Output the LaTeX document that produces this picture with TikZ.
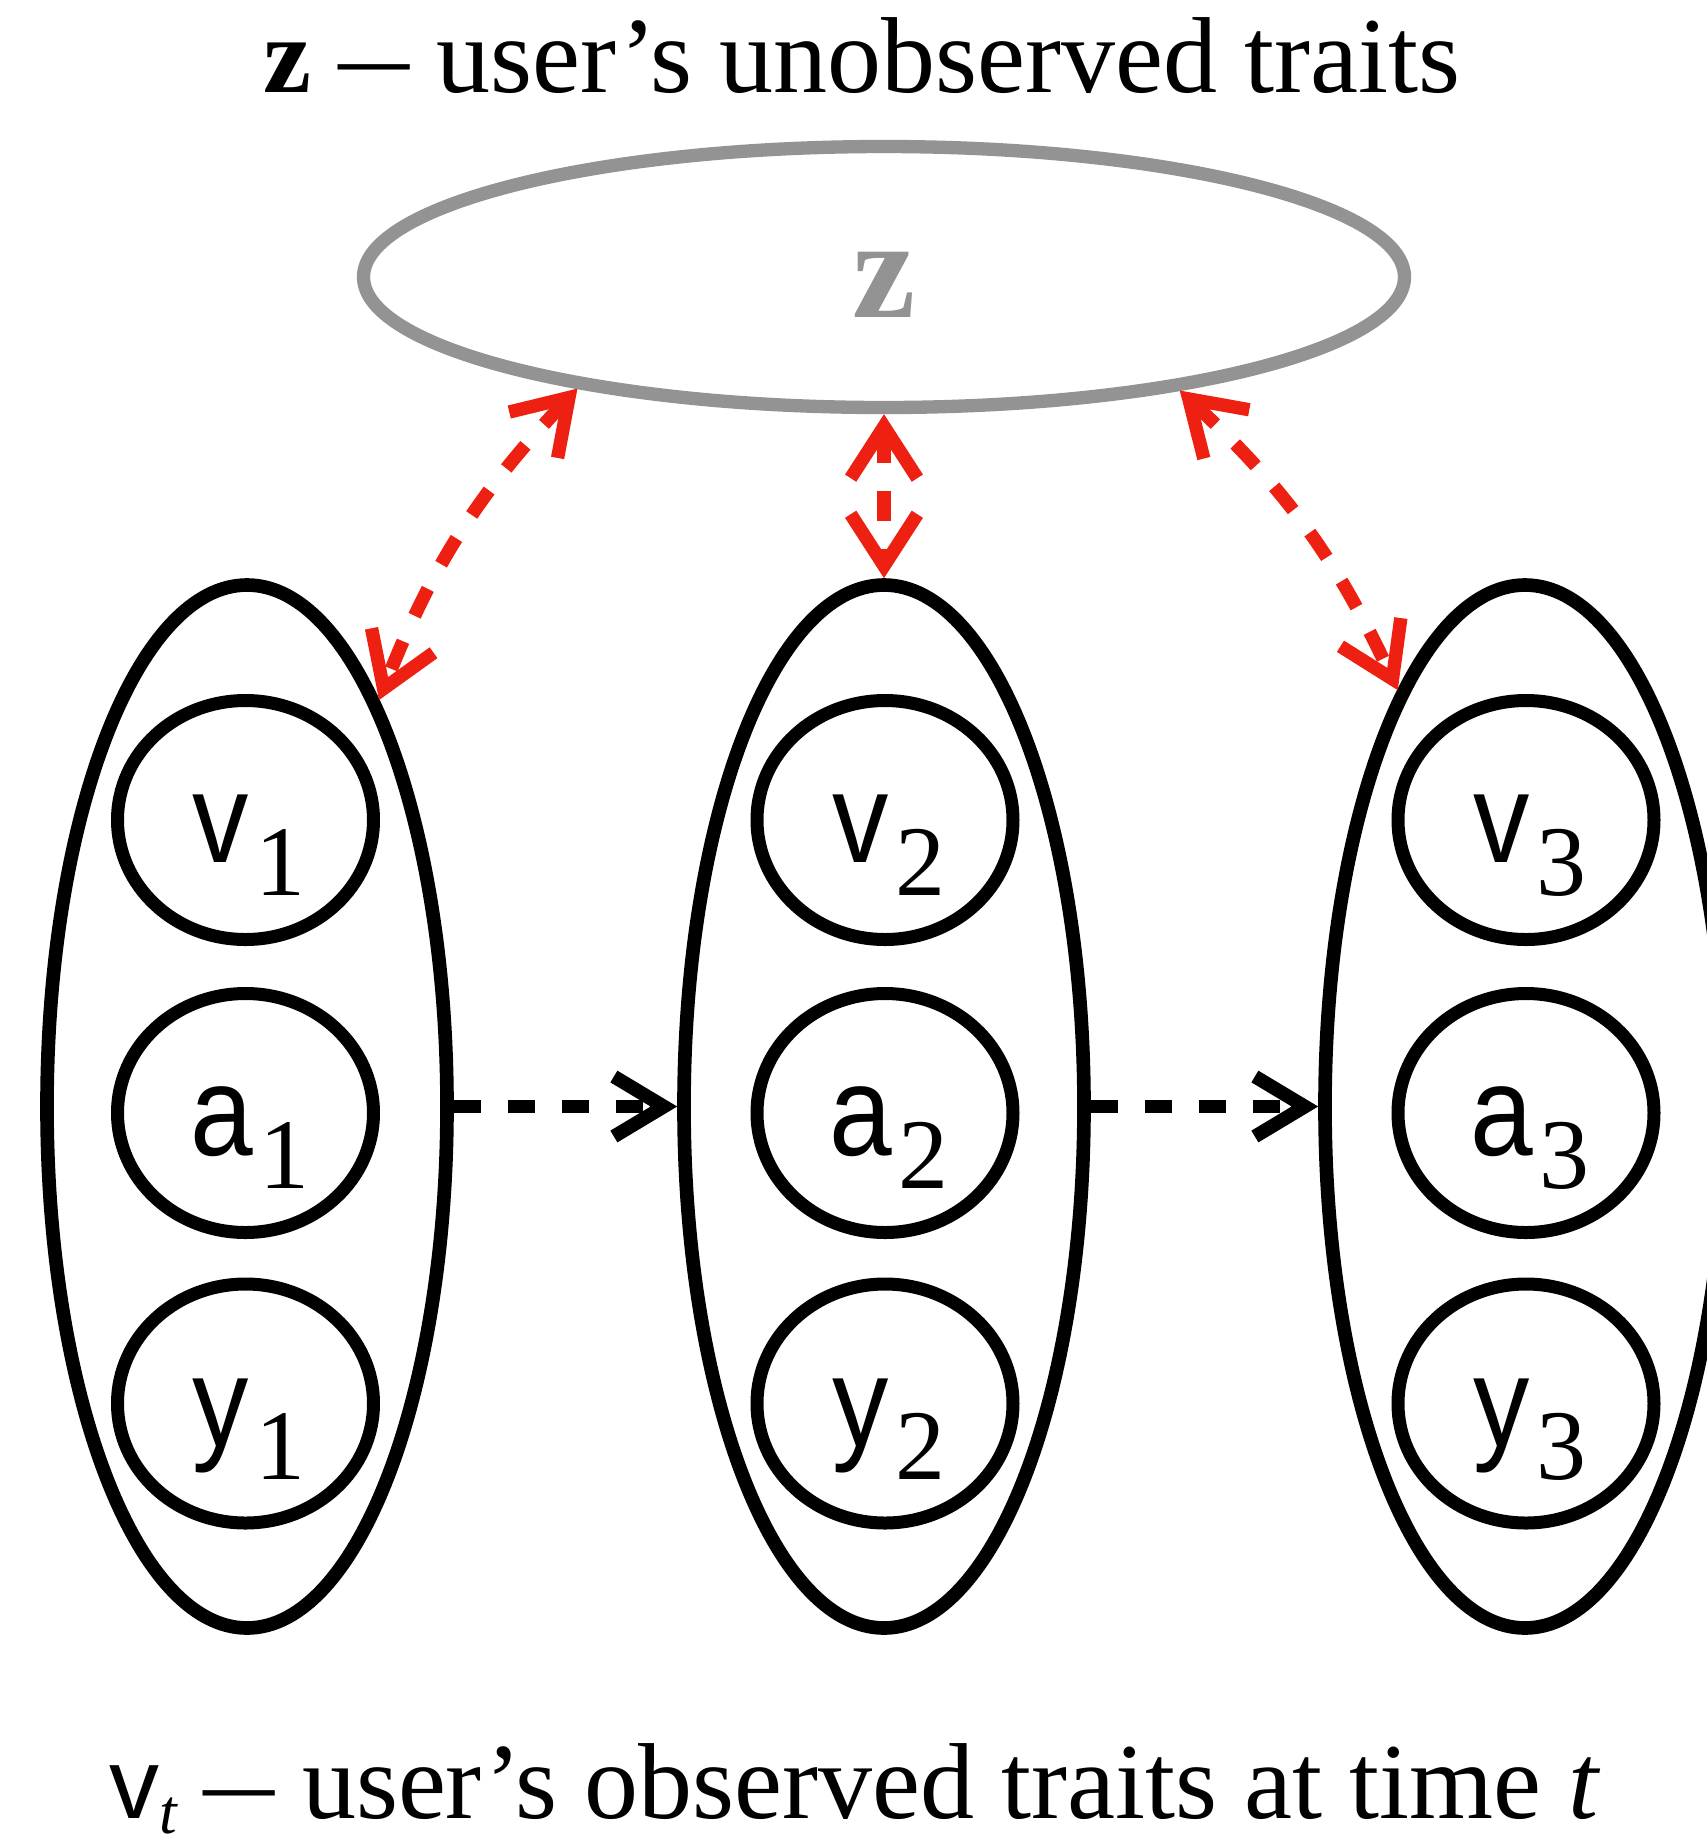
\documentclass[tikz,border=0pt]{standalone}
\usepackage{fontspec}
\setmainfont{Liberation Serif}
\setsansfont{Liberation Sans}
\usetikzlibrary{shapes.geometric,arrows.meta}
\definecolor{zgray}{RGB}{147,147,147}
\definecolor{zred}{RGB}{237,32,18}
\newcommand{\sublab}[2]{\scalebox{0.88}[1]{\sffamily #1}\kern2pt\raisebox{-10pt}{\fontsize{30}{30}\selectfont\rmfamily #2}}
\newcommand{\shortdash}{\scalebox{0.66}[1]{—}}
\begin{document}
\begin{tikzpicture}[x=0.3pt,y=-0.3pt,
  tall/.style={draw=black, line width=4.1pt, ellipse, minimum width=120pt, minimum height=312.9pt, inner sep=0pt},
  small/.style={draw=black, line width=3.9pt, ellipse, minimum width=76.8pt, minimum height=71.7pt, inner sep=0pt},
  zell/.style={draw=zgray, line width=4pt, ellipse, minimum width=312.3pt, minimum height=78.3pt, inner sep=0pt},
  lab/.style={anchor=base, inner sep=0pt, font=\fontsize{38.4}{40}\selectfont},
  caption/.style={anchor=base, inner sep=0pt, font=\fontsize{32.4}{36}\selectfont},
  redarr/.style={draw=zred, line width=4pt, dash pattern=on 9pt off 8.4pt,
    {Straight Barb[length=15.5pt,width=20pt]}-{Straight Barb[length=15.5pt,width=20pt]}},
  blackarr/.style={draw=black, line width=4.1pt, dash pattern=on 8.1pt off 8.1pt,
    -{Straight Barb[length=15pt,width=18pt]}}
]
\useasboundingbox (0,0) rectangle (1707,1846);
\clip (0,0) rectangle (1707,1846);

% titles
\node[caption] (title) at (862,92) {\textbf{z} \shortdash{} user’s unobserved traits};
\node[caption] (note) at (855,1818) {{\sffamily\fontsize{30}{30}\selectfont v}\raisebox{-4.5pt}{\fontsize{19}{19}\selectfont\itshape t} \shortdash{} user’s observed traits at time \textit{t}};

% latent z
\node[zell] (z) at (884,277) {};
\node[anchor=base, inner sep=0pt, text=zgray, font=\fontsize{42.7}{44}\selectfont\bfseries] (zt) at (884,317) {z};

% time slices
\node[tall] (t1) at (247,1106.5) {};
\node[tall] (t2) at (884,1106.5) {};
\node[tall] (t3) at (1525,1106.5) {};

\node[small] (v1) at (245.5,820) {};
\node[small] (a1) at (245.5,1113) {};
\node[small] (y1) at (245.5,1403.5) {};
\node[small] (v2) at (885,820) {};
\node[small] (a2) at (885,1113) {};
\node[small] (y2) at (885,1403.5) {};
\node[small] (v3) at (1526,820) {};
\node[small] (a3) at (1526,1113) {};
\node[small] (y3) at (1526,1403.5) {};

\node[lab] (v1t) at (249,862) {\sublab{v}{1}};
\node[lab] (a1t) at (250,1155) {\sublab{a}{1}};
\node[lab] (y1t) at (249,1446) {\sublab{y}{1}};
\node[lab] (v2t) at (889,862) {\sublab{v}{2}};
\node[lab] (a2t) at (889,1155) {\sublab{a}{2}};
\node[lab] (y2t) at (889,1446) {\sublab{y}{2}};
\node[lab] (v3t) at (1530,862) {\sublab{v}{3}};
\node[lab] (a3t) at (1530,1155) {\sublab{a}{3}};
\node[lab] (y3t) at (1530,1446) {\sublab{y}{3}};

% connectors
\draw[blackarr] (t1.east) -- (t2.west);
\draw[blackarr] (t2.east) -- (t3.west);
\draw[redarr] (z.200.5) to[bend right=11] (t1.72.5);
\draw[redarr] (z.south) -- (t2.north);
\draw[redarr] (z.339.5) to[bend left=11] (t3.107.5);
\end{tikzpicture}
\end{document}
